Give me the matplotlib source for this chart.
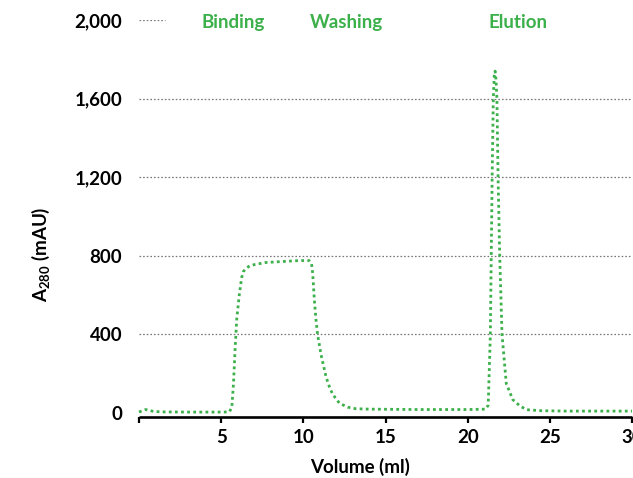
import matplotlib
matplotlib.use("Agg")
import matplotlib.pyplot as plt

# --- Data ---
VOLUME = [0.0, 0.2, 0.4, 0.6, 0.9, 1.5, 3.0, 5.0, 5.5, 5.65, 5.75, 5.85, 5.95, 6.1, 6.25,
          6.35, 6.5, 6.75, 7.0, 7.7, 8.7, 9.75, 10.35, 10.5, 10.57, 10.67, 10.77, 10.87,
          11.08, 11.38, 11.6, 11.79, 12.2, 12.7, 13.2, 14.0, 17.0, 20.0, 21.1, 21.25,
          21.38, 21.49, 21.56, 21.62, 21.67, 21.72, 21.78, 21.85, 21.95, 22.09, 22.35,
          22.75, 23.2, 23.6, 24.5, 26.0, 30.0]
A280 = [5, 12, 18, 14, 8, 6, 5, 5, 6, 30, 150, 330, 480, 600, 690,
        720, 735, 750, 755, 766, 771, 776, 776, 760, 711, 576, 474, 398,
        296, 185, 130, 95, 50, 30, 22, 20, 18, 18, 20, 40,
        400, 1200, 1600, 1720, 1740, 1700, 1600, 1200, 800, 400, 150,
        68, 35, 17, 12, 10, 10]

Y_TICKS = [0, 400, 800, 1200, 1600, 2000]
Y_TICKLABELS = ["0", "400", "800", "1,200", "1,600", "2,000"]
X_TICKS = [0, 5, 10, 15, 20, 25, 30]
X_TICKLABELS = ["", "5", "10", "15", "20", "25", "30"]

PHASES = ["Binding", "Washing", "Elution"]
PHASE_X = [5.75, 12.6, 23.05]

GREEN = "#3cb04b"
FONT = "Lato"
FS = 13.5

plt.rcParams["font.family"] = [FONT, "DejaVu Sans"]
plt.rcParams["mathtext.fontset"] = "custom"
plt.rcParams["mathtext.rm"] = "Lato:bold"
plt.rcParams["mathtext.default"] = "rm"

fig = plt.figure(figsize=(6.33, 4.78), dpi=100)
ax = fig.add_axes([139 / 633, 61 / 478, 493 / 633, 397 / 478])

ax.set_xlim(0, 30)
ax.set_ylim(-20, 2000)

# dotted gridlines
for y in Y_TICKS[1:-1]:
    ax.axhline(y, color="#777777", lw=0.9, ls=(0, (1.3, 1.6)), zorder=1)
ax.hlines(2000, 0, 1.6, color="#777777", lw=0.9, ls=(0, (1.3, 1.6)), zorder=1)

ax.plot(VOLUME, A280, color=GREEN, lw=2.0, ls=(0, (1, 1.2)), zorder=3, clip_on=False)

for name, x in zip(PHASES, PHASE_X):
    ax.text(x, 1985, name, color=GREEN, fontsize=FS, fontweight="bold",
            ha="center", va="center")

for side in ("left", "right", "top"):
    ax.spines[side].set_visible(False)
ax.spines["bottom"].set_linewidth(1.9)
ax.spines["bottom"].set_capstyle("butt")

ax.set_xticks(X_TICKS)
ax.set_xticklabels(X_TICKLABELS)
ax.set_yticks(Y_TICKS)
ax.set_yticklabels(Y_TICKLABELS)
ax.tick_params(axis="x", length=4.5, width=1.6, pad=4, labelsize=FS)
ax.tick_params(axis="y", length=0, pad=12, labelsize=FS)
for lab in ax.get_xticklabels() + ax.get_yticklabels():
    lab.set_fontweight("bold")

ax.set_xlabel("Volume (ml)", fontsize=FS, fontweight="bold")
ax.xaxis.set_label_coords(0.448, -0.104)
ax.set_ylabel(r"A$_{280}$ (mAU)", fontsize=FS, fontweight="bold")
ax.yaxis.set_label_coords(-0.176, 0.41)

fig.savefig("out.png", dpi=100)
